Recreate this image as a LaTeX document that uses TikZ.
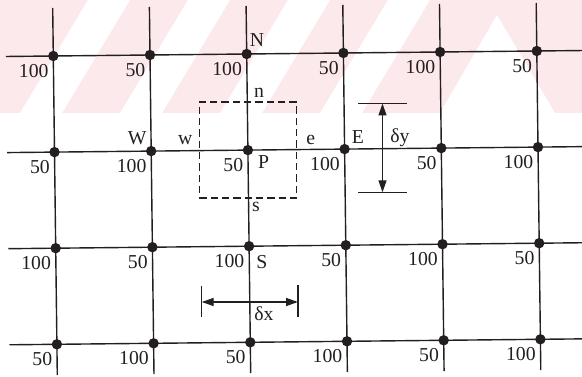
\documentclass[tikz,border=0pt]{standalone}
\usepackage{fontspec}
\setmainfont{Liberation Serif}
\usetikzlibrary{calc,arrows.meta}
\definecolor{wm}{RGB}{252,233,235}
\definecolor{ink}{RGB}{35,31,32}
\begin{document}
\begin{tikzpicture}[x=0.75pt,y=-0.75pt,
  every node/.style={font=\fontsize{14.8}{16}\selectfont, text=ink, inner sep=0pt},
  gridline/.style={draw=ink, line width=1.05pt},
  gpt/.style={circle, fill=ink, minimum size=7.8pt, inner sep=0pt},
  val/.style={anchor=north east},
  lab/.style={anchor=base west},
  labr/.style={anchor=base east},
  cvbox/.style={draw=ink, line width=1pt, dash pattern=on 5.5pt off 3pt, minimum width=72.75pt, minimum height=72pt},
  tick/.style={draw=ink, line width=1.05pt},
  dimarrow/.style={draw=ink, line width=1.05pt, {Triangle[length=9pt,width=6pt]}-{Triangle[length=9pt,width=6pt]}}
]
\useasboundingbox (0,0) rectangle (582,377);
% faint watermark
\fill[wm] (0,0) rectangle (582,113);
\foreach \b in {20,120,220,320}{
  \fill[white] (\b,113) -- ({\b+42},113) -- ({\b+110},0) -- ({\b+68},0) -- cycle;
}
\fill[white] (497,15) -- (440,113) -- (555,113) -- cycle;
% grid coordinates
\foreach \i in {0,...,5}{
  \foreach \j in {0,...,3}{
    \coordinate (c\i\j) at ({53.3+96.7*\i+1.2*\j},{56+96.1*\j-1.0*\i});
  }
  \coordinate (top\i) at ({53.3+96.7*\i-0.6},{56-48-\i});
  \coordinate (bot\i) at ({53.3+96.7*\i+1.2*3.32},{56+96.1*3.32-\i});
  \draw[gridline] (top\i) -- (bot\i);
}
\foreach \j in {0,...,3}{
  \coordinate (l\j) at ({53.3-47.4+1.2*\j},{56+96.1*\j+0.49});
  \coordinate (r\j) at ({53.3+96.7*5.47+1.2*\j},{56+96.1*\j-5.47});
  \draw[gridline] (l\j) -- (r\j);
}
% grid points and values
\foreach \i/\j/\v in {0/0/100,1/0/50,2/0/100,3/0/50,4/0/100,5/0/50,
                      0/1/50,1/1/100,2/1/50,3/1/100,4/1/50,5/1/100,
                      0/2/100,1/2/50,2/2/100,3/2/50,4/2/100,5/2/50,
                      0/3/50,1/3/100,2/3/50,3/3/100,4/3/50,5/3/100}{
  \node[gpt] (g\i\j) at (c\i\j) {};
  \node[val] (v\i\j) at ($(c\i\j)+(-4.5,8)$) {\v};
}
% point letters
\node[lab] (lN) at ($(g20)+(3,-7)$) {N};
\node[labr] (lW) at ($(g11)+(-4.5,-7)$) {W};
\node[lab] (lP) at ($(g21)+(10,18)$) {P};
\node[lab] (lE) at ($(g31)+(7,-6)$) {E};
\node[lab] (lS) at ($(g22)+(7,22)$) {S};
% control volume
\node[cvbox] (cv) at (g21) {};
\node[labr] (lw) at ($(cv.west)+(-6,-6)$) {w};
\node[lab] (le) at ($(cv.east)+(9,-6)$) {e};
\node[lab] (ln) at ($(cv.north)+(6,-3.5)$) {n};
\node[lab] (ls) at ($(cv.south)+(4,12.5)$) {s};
% delta y
\coordinate (dyT) at (382.5,103.5);
\coordinate (dyB) at (382.5,192.3);
\coordinate (tyL) at (358,103.5);
\coordinate (tyR) at (406.5,103.5);
\coordinate (byL) at (358,192.3);
\coordinate (byR) at (406.5,192.3);
\draw[tick] (tyL) -- (tyR);
\draw[tick] (byL) -- (byR);
\draw[dimarrow] (dyT) -- (dyB);
\node[lab] (ldy) at (390,143) {δy};
% delta x
\coordinate (dxL) at (201.7,302);
\coordinate (dxR) at (298,302);
\coordinate (txT) at (201.7,286.5);
\coordinate (txB) at (201.7,317.5);
\coordinate (rxT) at (298,285.5);
\coordinate (rxB) at (298,317);
\draw[tick] (txT) -- (txB);
\draw[tick] (rxT) -- (rxB);
\draw[dimarrow] (dxL) -- (dxR);
\node[lab] (ldx) at (254,321) {δx};
\end{tikzpicture}
\end{document}
